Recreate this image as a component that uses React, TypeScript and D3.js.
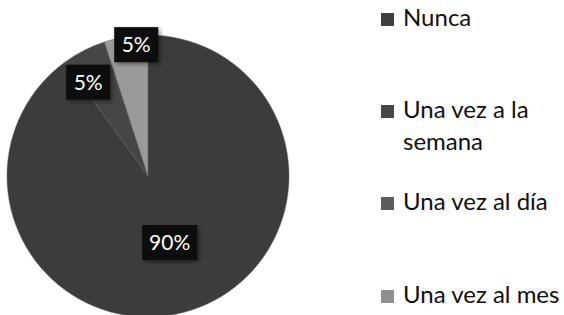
import React from "react";
import * as d3 from "d3";

const categories = ["Nunca", "Una vez a la semana", "Una vez al día", "Una vez al mes"];
const values = [90, 5, 0, 5];
const sliceColors = ["#3c3c3c", "#464646", "#5a5a5a", "#9a9a9a"];
const legendColors = ["#3e3e3e", "#484848", "#5c5c5c", "#8f8f8f"];
const legendLines = [["Nunca"], ["Una vez a la", "semana"], ["Una vez al día"], ["Una vez al mes"]];

const W = 564;
const H = 315;
const cx = 148;
const cy = 176;
const R = 141;
const labelRadius = [70, 112, 0, 133];
const labelNudge = [[0, 0], [-9, 6], [0, 0], [9, 0]];
const legendBaselines = [26, 118, 210, 303];

export default function App() {
  const pie = d3.pie<number>().sort(null).value((d) => d);
  const arcs = pie(values);
  const arc = d3.arc<d3.PieArcDatum<number>>().innerRadius(0).outerRadius(R);
  const font = "Lato, 'Open Sans', sans-serif";

  return (
    <svg width={W} height={H} style={{ position: "absolute", left: 0, top: 0, background: "#fff" }} fontFamily={font}>
      <defs>
        <filter id="sh" x="-30%" y="-30%" width="160%" height="160%">
          <feGaussianBlur in="SourceAlpha" stdDeviation="2" />
          <feOffset dx="2" dy="2" result="b" />
          <feComponentTransfer><feFuncA type="linear" slope="0.45" /></feComponentTransfer>
          <feMerge>
            <feMergeNode />
            <feMergeNode in="SourceGraphic" />
          </feMerge>
        </filter>
      </defs>
      <g transform={`translate(${cx},${cy})`}>
        {arcs.map((a, i) =>
          a.value > 0 ? (
            <path key={i} d={arc(a) || ""} fill={sliceColors[i]} stroke="#5a5a5a" strokeWidth={0.5} />
          ) : null
        )}
        {arcs.map((a, i) => {
          if (a.value <= 0) return null;
          const la = d3.arc<d3.PieArcDatum<number>>().innerRadius(labelRadius[i]).outerRadius(labelRadius[i]);
          const [x0, y0] = la.centroid(a);
          const x = x0 + labelNudge[i][0];
          const y = y0 + labelNudge[i][1];
          const txt = `${Math.round(a.value)}%`;
          const bw = txt.length === 3 ? 55 : 44;
          const bh = 35;
          return (
            <g key={"l" + i} transform={`translate(${x},${y})`}>
              <rect x={-bw / 2} y={-bh / 2} width={bw} height={bh} fill="#0b0b0b" filter="url(#sh)" />
              <text x={0} y={7.5} textAnchor="middle" fill="#fff" fontSize={21}>
                {txt}
              </text>
            </g>
          );
        })}
      </g>
      {categories.map((c, i) => (
        <g key={c}>
          <rect x={381} y={legendBaselines[i] - 13} width={13} height={13} fill={legendColors[i]} />
          {legendLines[i].map((ln, j) => (
            <text key={j} x={403} y={legendBaselines[i] + j * 32} fontSize={24} fill="#111">
              {ln}
            </text>
          ))}
        </g>
      ))}
    </svg>
  );
}
